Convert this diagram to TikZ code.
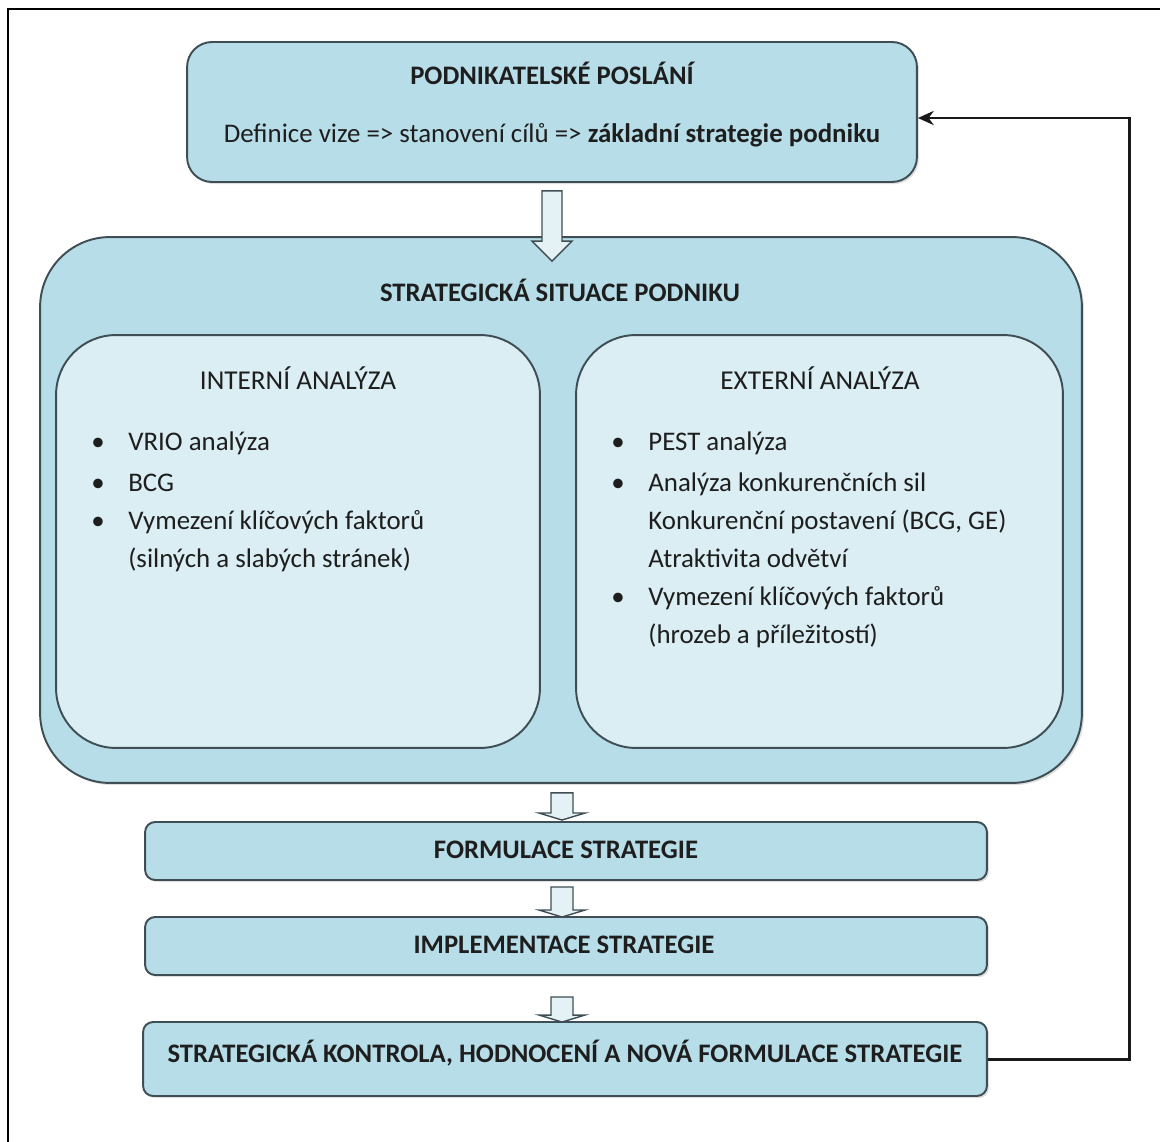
\documentclass[tikz,border=0pt]{standalone}
\usepackage{fontspec}
\setmainfont{Carlito}
\usetikzlibrary{calc,shadows,arrows.meta}
\definecolor{boxfill}{HTML}{B7DDE8}
\definecolor{innerfill}{HTML}{DAEEF3}
\definecolor{arrowfill}{HTML}{E4F2F6}
\definecolor{edge}{HTML}{3E4E54}
\definecolor{txt}{HTML}{1E1E1E}
\newcommand{\blockarrow}[5]{%
  \draw[barrow] let \p1=(#1), \p2=(#2) in
    ($(\x1,\y1)+(-#3,0)$) -- ($(\x1,\y1)+(#3,0)$) -- ($(\x1,\y2)+(#3,-#5)$)
    -- ($(\x1,\y2)+(#4,-#5)$) -- (\x1,\y2) -- ($(\x1,\y2)+(-#4,-#5)$)
    -- ($(\x1,\y2)+(-#3,-#5)$) -- cycle;}
\begin{document}
\begin{tikzpicture}[x=0.02cm,y=-0.02cm,
  box/.style={draw=edge, line width=1.1pt, fill=boxfill, rounded corners=#1,
    drop shadow={shadow xshift=1.2pt, shadow yshift=-1.2pt, opacity=0.25}},
  box/.default=0.5cm,
  inner/.style={draw=edge, line width=1.1pt, fill=innerfill, rounded corners=1.2cm},
  ttl/.style={font=\fontsize{15.2}{17}\selectfont\bfseries, text=txt, inner sep=0pt},
  hdr/.style={font=\fontsize{15.5}{17}\selectfont, text=txt, inner sep=0pt},
  item/.style={font=\fontsize{15.3}{17}\selectfont, text=txt, inner sep=0pt, anchor=base west},
  bul/.style={font=\fontsize{15.3}{17}\selectfont, text=txt, inner sep=0pt, anchor=base},
  barrow/.style={draw=edge, line width=0.8pt, fill=arrowfill, line join=miter},
  fb/.style={line width=1.7pt, draw=black!90, -{Stealth[length=9pt,width=8pt]}},
  fbshadow/.style={line width=1.7pt, draw=black!35}
]
\useasboundingbox (0,0) rectangle (1160,1142);
\draw[line width=1.1pt] (8,1142) -- (8,9) -- (1160,9);

% top box
\node[box, minimum width=14.6cm, minimum height=2.8cm] (top) at (552,112) {};
\node[ttl] (topttl) at (552,73) {PODNIKATELSKÉ POSLÁNÍ};
\node[hdr, font=\fontsize{15.3}{17}\selectfont] (topsub) at (552,135) {Definice vize => stanovení cílů => \textbf{základní strategie podniku}};

% big box
\node[box=1.4cm, minimum width=20.84cm, minimum height=10.92cm] (big) at (561,510) {};
\node[ttl] (bigttl) at (560,290) {STRATEGICKÁ SITUACE PODNIKU};

\node[inner, minimum width=9.68cm, minimum height=8.26cm] (int) at (298,541.5) {};
\node[inner, minimum width=9.74cm, minimum height=8.26cm] (ext) at (819.5,541.5) {};
\node[hdr] (intttl) at (298,378) {INTERNÍ ANALÝZA};
\node[hdr] (extttl) at (820,378) {EXTERNÍ ANALÝZA};

% internal list
\node[bul] (ib1) at (98,450) {•};
\node[bul] (ib2) at (98,491) {•};
\node[bul] (ib3) at (98,529) {•};
\node[item] (il1) at (128,450) {VRIO analýza};
\node[item] (il2) at (128,491) {BCG};
\node[item] (il3) at (128,529) {Vymezení klíčových faktorů};
\node[item] (il4) at (128,567) {(silných a slabých stránek)};

% external list
\node[bul] (eb1) at (618,450) {•};
\node[bul] (eb2) at (618,491) {•};
\node[bul] (eb3) at (618,605) {•};
\node[item] (el1) at (648,450) {PEST analýza};
\node[item] (el2) at (648,491) {Analýza konkurenčních sil};
\node[item] (el3) at (648,529) {Konkurenční postavení (BCG, GE)};
\node[item] (el4) at (648,567) {Atraktivita odvětví};
\node[item] (el5) at (648,605) {Vymezení klíčových faktorů};
\node[item] (el6) at (648,643) {(hrozeb a příležitostí)};

% lower boxes
\node[box=0.2cm, minimum width=16.84cm, minimum height=1.16cm] (form) at (566,851) {};
\node[ttl] (formttl) at (566,850) {FORMULACE STRATEGIE};
\node[box=0.2cm, minimum width=16.84cm, minimum height=1.16cm] (impl) at (566,946) {};
\node[ttl] (implttl) at (564,945) {IMPLEMENTACE STRATEGIE};
\node[box=0.2cm, minimum width=16.88cm, minimum height=1.48cm] (kontr) at (565,1059) {};
\node[ttl] (kontrttl) at (565,1053) {STRATEGICKÁ KONTROLA, HODNOCENÍ A NOVÁ FORMULACE STRATEGIE};

% block arrows
\blockarrow{$(top.south)+(0,8)$}{$(big.north)+(0,25)$}{10}{20}{20}
\blockarrow{$(big.south)+(1,9)$}{$(form.north)+(0,-1)$}{11}{23}{7}
\blockarrow{$(form.south)+(-4,6)$}{$(impl.north)+(0,1)$}{11}{23}{7}
\blockarrow{$(impl.south)+(-4,21)$}{$(kontr.north)+(0,1)$}{11}{23}{7}

% feedback
\coordinate (fbtop) at (1129,118);
\draw[fbshadow, shift={(3,3)}] (kontr.east) -| (fbtop);
\draw[fb] (kontr.east) -| (fbtop) -- (fbtop -| top.east);
\end{tikzpicture}
\end{document}
